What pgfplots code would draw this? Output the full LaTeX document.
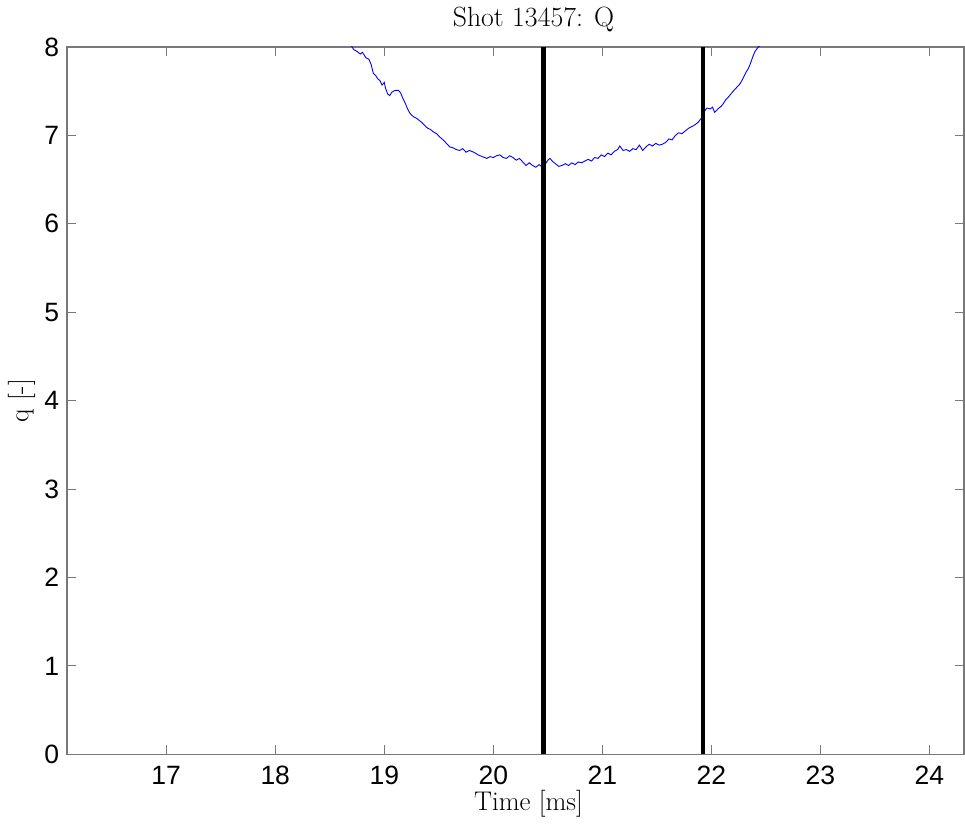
\documentclass[border=0pt]{standalone}
\usepackage{fontspec}
\usepackage{pgfplots}
\pgfplotsset{compat=1.18}
\newfontfamily\arialfont{Liberation Sans}
\definecolor{axgray}{RGB}{120,120,120}
\begin{document}
\begin{tikzpicture}
\path[use as bounding box] (-67pt,-68.7pt) rectangle (898pt,754.3pt);
\begin{axis}[
  scale only axis,
  at={(0,0)}, anchor=south west,
  width=897pt, height=707.3pt,
  xmin=16.09, xmax=24.317,
  ymin=0, ymax=8,
  xtick={17,18,19,20,21,22,23,24},
  ytick={0,1,2,3,4,5,6,7,8},
  xtick pos=both, ytick pos=both,
  tick align=inside,
  major tick length=9pt,
  axis line style={draw=axgray, line width=1.1pt},
  every tick/.style={draw=axgray, line width=1.1pt},
  /pgf/number format/assume math mode=true,
  tick label style={font=\arialfont\fontsize{26.5}{30}\selectfont},
  xticklabel style={anchor=north, inner sep=0pt, yshift=-11.6pt},
  yticklabel style={anchor=east, inner sep=0pt, xshift=-7.7pt},
  title={Shot 13457: Q},
  title style={at={(axis description cs:0.5,1)}, anchor=base, yshift=14pt, xshift=18pt, inner sep=0pt, font=\fontsize{27.8}{32}\selectfont},
  xlabel={Time [ms]},
  xlabel style={at={(axis description cs:0.5,0)}, anchor=base, yshift=-56.5pt, xshift=13pt, inner sep=0pt, font=\fontsize{27}{32}\selectfont},
  ylabel={q [-]},
  ylabel style={at={(axis description cs:0,0.5)}, anchor=base, yshift=38.7pt, inner sep=0pt, font=\fontsize{27.3}{32}\selectfont},
]
\addplot[blue, line width=0.9pt] coordinates {
(18.60,8.12) (18.70,8.01) (18.72,7.97) (18.75,7.95) (18.78,7.92) (18.80,7.94) (18.83,7.88) (18.86,7.86) (18.88,7.80) (18.90,7.70)
(18.92,7.68) (18.94,7.64) (18.96,7.62) (18.98,7.57) (19.00,7.60) (19.01,7.54) (19.03,7.47) (19.05,7.45) (19.07,7.49) (19.10,7.51)
(19.13,7.51) (19.15,7.48) (19.17,7.42) (19.19,7.37) (19.21,7.31) (19.23,7.26) (19.25,7.23) (19.27,7.21) (19.30,7.19) (19.33,7.16)
(19.35,7.14) (19.38,7.10) (19.40,7.08) (19.42,7.07) (19.45,7.04) (19.48,7.02) (19.51,6.98) (19.54,6.95) (19.57,6.91) (19.60,6.87)
(19.63,6.86) (19.66,6.84) (19.69,6.83) (19.72,6.85) (19.75,6.81) (19.78,6.83) (19.82,6.81) (19.86,6.78) (19.90,6.76) (19.94,6.74)
(19.97,6.76) (20.00,6.75) (20.03,6.77) (20.06,6.78) (20.09,6.75) (20.12,6.74) (20.15,6.77) (20.18,6.75) (20.21,6.72) (20.24,6.74)
(20.27,6.70) (20.30,6.66) (20.33,6.69) (20.36,6.66) (20.39,6.64) (20.42,6.67) (20.45,6.64) (20.48,6.68) (20.50,6.72) (20.52,6.74)
(20.54,6.71) (20.57,6.68) (20.60,6.65) (20.63,6.66) (20.66,6.68) (20.69,6.66) (20.72,6.69) (20.75,6.67) (20.78,6.70) (20.81,6.69)
(20.84,6.71) (20.87,6.73) (20.90,6.71) (20.93,6.75) (20.96,6.74) (20.99,6.78) (21.02,6.76) (21.05,6.80) (21.08,6.78) (21.11,6.82)
(21.14,6.84) (21.16,6.88) (21.19,6.83) (21.22,6.84) (21.25,6.82) (21.28,6.85) (21.31,6.84) (21.34,6.89) (21.37,6.83) (21.40,6.87)
(21.43,6.90) (21.46,6.88) (21.49,6.91) (21.52,6.89) (21.55,6.90) (21.58,6.92) (21.61,6.96) (21.64,6.95) (21.67,7.00) (21.70,7.03)
(21.73,7.02) (21.76,7.05) (21.79,7.08) (21.82,7.10) (21.85,7.12) (21.88,7.15) (21.91,7.20) (21.94,7.28) (21.96,7.31) (21.99,7.30)
(22.01,7.32) (22.03,7.26) (22.06,7.30) (22.09,7.33) (22.11,7.36) (22.13,7.40) (22.16,7.44) (22.18,7.47) (22.20,7.50) (22.23,7.54)
(22.26,7.58) (22.28,7.62) (22.30,7.67) (22.32,7.72) (22.34,7.76) (22.36,7.82) (22.38,7.89) (22.40,7.95) (22.43,8.00) (22.46,8.03)
(22.52,8.12)
};
\addplot[black, line width=4.5pt] coordinates {(20.458,0) (20.458,8)};
\addplot[black, line width=4.5pt] coordinates {(21.922,0) (21.922,8)};
\end{axis}
\end{tikzpicture}
\end{document}
